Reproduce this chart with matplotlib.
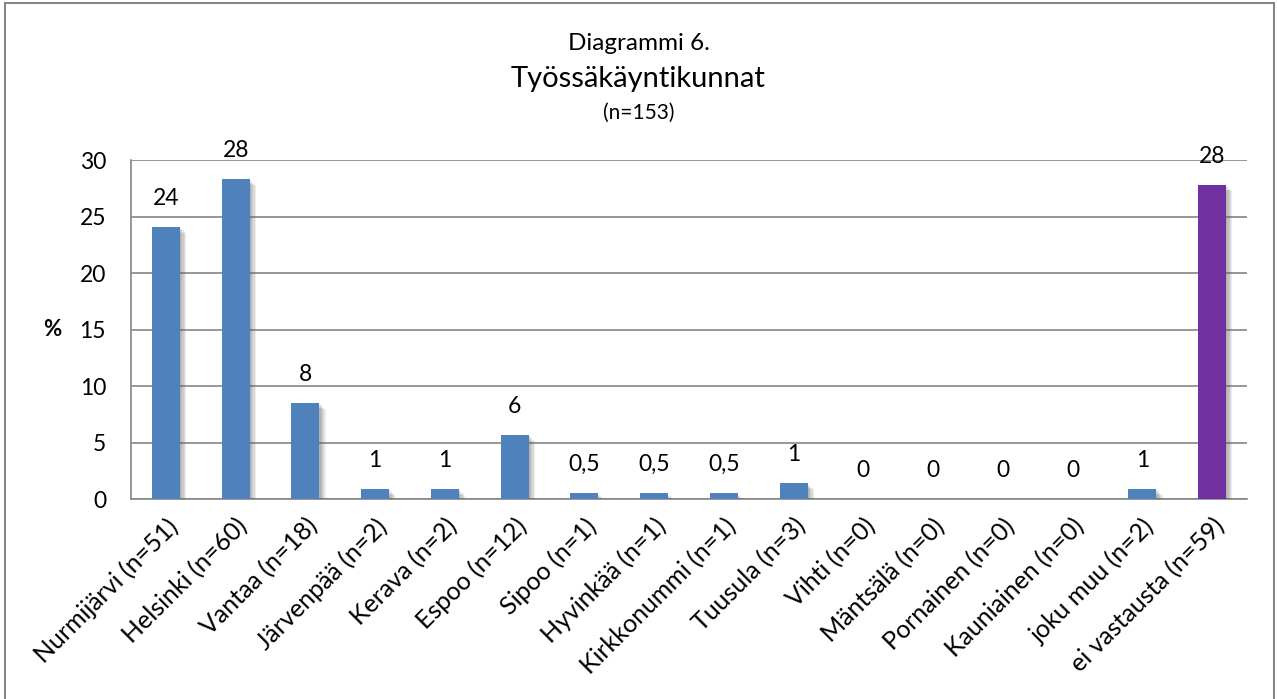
import matplotlib
matplotlib.use("Agg")
import matplotlib.pyplot as plt
import matplotlib.patheffects as pe
from matplotlib.patches import Rectangle

plt.rcParams['font.family'] = ['Lato', 'DejaVu Sans']

categories = ["Nurmijärvi (n=51)", "Helsinki (n=60)", "Vantaa (n=18)", "Järvenpää (n=2)",
              "Kerava (n=2)", "Espoo (n=12)", "Sipoo (n=1)", "Hyvinkää (n=1)",
              "Kirkkonummi (n=1)", "Tuusula (n=3)", "Vihti (n=0)", "Mäntsälä (n=0)",
              "Pornainen (n=0)", "Kauniainen (n=0)", "joku muu (n=2)", "ei vastausta (n=59)"]
values = [24.1, 28.3, 8.5, 0.9, 0.9, 5.7, 0.5, 0.5, 0.5, 1.4, 0, 0, 0, 0, 0.9, 27.8]
value_labels = ["24", "28", "8", "1", "1", "6", "0,5", "0,5", "0,5", "1", "0", "0", "0", "0", "1", "28"]
yticks = [0, 5, 10, 15, 20, 25, 30]

blue = "#4F81BD"
purple = "#7030A0"
colors = [blue] * (len(categories) - 1) + [purple]

fig = plt.figure(figsize=(12.77, 6.99), dpi=100)
ax = fig.add_axes([131/1277, 1 - 499/699, (1247-131)/1277, (499-160)/699])

x = list(range(len(categories)))
bars = ax.bar(x, values, width=0.4, color=colors, zorder=3)
shadow_effects = []
for k in range(1, 6):
    shadow_effects.append(pe.SimplePatchShadow(offset=(k * 0.9, -k * 0.9),
                                               shadow_rgbFace='#606060', alpha=0.12))
for b in bars:
    b.set_path_effects(shadow_effects + [pe.Normal()])

for xi, v, lab in zip(x, values, value_labels):
    ax.annotate(lab, (xi, v), xytext=(0, 13), textcoords='offset points',
                ha='center', va='bottom', fontsize=16.5, color='black', zorder=4)

ax.set_xlim(-0.5, len(categories) - 0.5)
ax.set_ylim(0, 30)
ax.set_yticks(yticks)
ax.set_yticklabels([str(t) for t in yticks], fontsize=16.5)
ax.yaxis.grid(True, color='#868686', linewidth=1.2, zorder=0)
ax.set_axisbelow(True)
ax.tick_params(axis='both', length=0)
ax.tick_params(axis='x', pad=11)
ax.tick_params(axis='y', pad=18)
ax.set_xticks(x)
ax.set_xticklabels(categories, rotation=45, ha='right', va='top', rotation_mode='anchor', fontsize=18)
for s in ['top', 'right']:
    ax.spines[s].set_visible(False)
for s in ['left', 'bottom']:
    ax.spines[s].set_color('#868686')
    ax.spines[s].set_linewidth(1.2)

fig.text(52/1277, 1 - 330/699, "%", fontsize=16, fontweight='bold', ha='center', va='center')
fig.text(0.5, 1 - 44/699, "Diagrammi 6.", fontsize=17.5, ha='center', va='center')
fig.text(0.5, 1 - 79/699, "Työssäkäyntikunnat", fontsize=21, ha='center', va='center')
fig.text(0.5, 1 - 113/699, "(n=153)", fontsize=15, ha='center', va='center')

fig.patches.append(Rectangle((5/1277, -0.02), (1274-5)/1277, 1 - 3/699 + 0.02,
                             transform=fig.transFigure, fill=False, edgecolor='#868686',
                             linewidth=1.5))

fig.savefig("out.png", dpi=100, facecolor='white')
